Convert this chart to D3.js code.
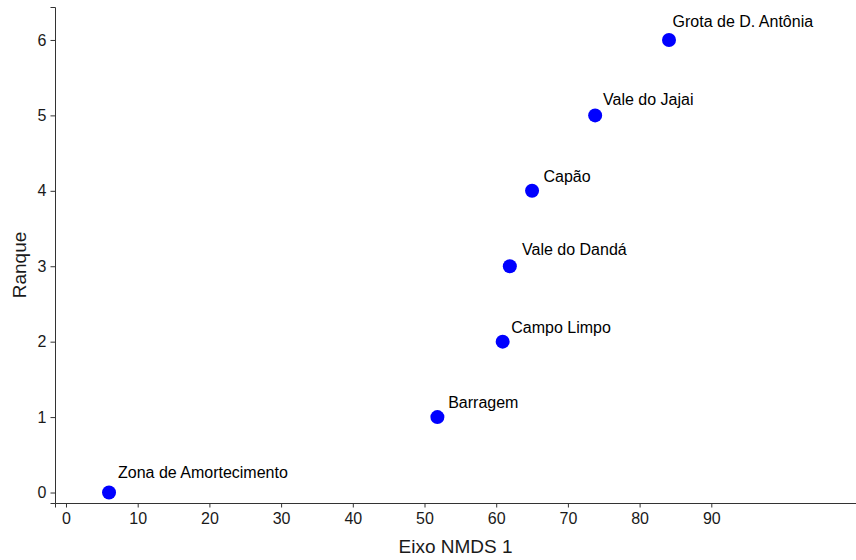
<!DOCTYPE html>
<html>
<head>
<meta charset="utf-8">
<script src="https://cdn.jsdelivr.net/npm/d3@7"></script>
<style>
  body { margin: 0; background: #fff; }
  text { font-family: "Liberation Sans", Arial, sans-serif; }
</style>
</head>
<body>
<svg id="chart" width="856" height="560"></svg>
<script>
// sites, NMDS axis 1 score and rank
var sites  = ["Zona de Amortecimento", "Barragem", "Campo Limpo", "Vale do Dandá", "Capão", "Vale do Jajai", "Grota de D. Antônia"];
var nmds1  = [6.0, 51.8, 60.9, 61.9, 65.0, 73.8, 84.1];
var ranque = [0, 1, 2, 3, 4, 5, 6];
// where each label sits (data units)
var labelX = [7.25, 53.3, 62.1, 63.6, 66.6, 74.9, 84.6];
var labelY = [0.19, 1.12, 2.12, 3.15, 4.12, 5.14, 6.17];

var xTicks = [0, 10, 20, 30, 40, 50, 60, 70, 80, 90];
var yTicks = [0, 1, 2, 3, 4, 5, 6];

var margin = {top: 7, right: 0, bottom: 57, left: 55};
var width = 856 - margin.left - margin.right,
    height = 560 - margin.top - margin.bottom;

var pts = sites.map((s, i) => ({site: s, x: nmds1[i], y: ranque[i], lx: labelX[i], ly: labelY[i]}));

var svg = d3.select("#chart");
var g = svg.append("g").attr("transform", `translate(${margin.left},${margin.top})`);

var xScale = d3.scaleLinear().domain([-1.534, 110.18]).range([0, width]);
var yScale = d3.scaleLinear().domain([-0.139, 6.437]).range([height, 0]);

// x axis
var xAx = g.append("g")
  .attr("class", "x_axis")
  .attr("transform", `translate(0,${height})`)
  .call(d3.axisBottom(xScale).tickValues(xTicks).tickFormat(d3.format("d"))
    .tickSizeOuter(0).tickSize(4.5).tickPadding(5));

// y axis
var yAx = g.append("g")
  .attr("class", "y_axis")
  .call(d3.axisLeft(yScale).tickValues(yTicks).tickFormat(d3.format("d"))
    .tickSizeOuter(0).tickSize(4.5).tickPadding(4));

[xAx, yAx].forEach(ax => {
  ax.attr("font-size", null).attr("font-family", null);
  ax.select(".domain").attr("stroke", "#333").attr("stroke-width", 1);
  ax.selectAll(".tick line").attr("stroke", "#333");
  ax.selectAll("text")
    .style("font-size", "16px")
    .attr("fill", "#1a1a1a");
});

// axis titles
svg.append("text")
  .attr("x", margin.left + width / 2)
  .attr("y", 553)
  .attr("text-anchor", "middle")
  .style("font-size", "19px")
  .attr("fill", "#1a1a1a")
  .text("Eixo NMDS 1");

svg.append("text")
  .attr("transform", "translate(26,265) rotate(-90)")
  .attr("text-anchor", "middle")
  .style("font-size", "19px")
  .attr("fill", "#1a1a1a")
  .text("Ranque");

// points
g.selectAll("circle.pt")
  .data(pts)
  .join("circle")
    .attr("class", "pt")
    .attr("cx", d => xScale(d.x))
    .attr("cy", d => yScale(d.y))
    .attr("r", 7)
    .attr("fill", "#0000ff");

// labels
g.selectAll("text.lab")
  .data(pts)
  .join("text")
    .attr("class", "lab")
    .attr("x", d => xScale(d.lx))
    .attr("y", d => yScale(d.ly))
    .style("font-size", "16px")
    .attr("fill", "#000")
    .text(d => d.site);
</script>
</body>
</html>
